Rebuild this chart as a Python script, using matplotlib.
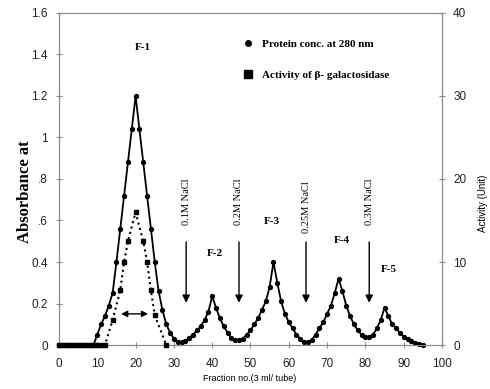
import matplotlib
matplotlib.use("Agg")
import matplotlib.pyplot as plt
from matplotlib.lines import Line2D

# protein absorbance at 280 nm, one value per fraction (0..95)
fractions = list(range(0, 96))
protein = [0, 0, 0, 0, 0, 0, 0, 0, 0, 0,
           0.05, 0.10, 0.14, 0.19, 0.25, 0.40, 0.56, 0.72, 0.88, 1.04,
           1.20, 1.04, 0.88, 0.72, 0.56, 0.40, 0.26, 0.17, 0.10, 0.06,
           0.03, 0.015, 0.015, 0.02, 0.035, 0.05, 0.07, 0.09, 0.12, 0.16,
           0.235, 0.18, 0.13, 0.09, 0.06, 0.035, 0.025, 0.025, 0.03, 0.05,
           0.07, 0.10, 0.13, 0.17, 0.21, 0.28, 0.40, 0.30, 0.21, 0.15,
           0.11, 0.08, 0.05, 0.03, 0.015, 0.015, 0.025, 0.05, 0.08, 0.11,
           0.15, 0.19, 0.25, 0.32, 0.26, 0.19, 0.14, 0.10, 0.07, 0.05,
           0.04, 0.04, 0.05, 0.08, 0.12, 0.18, 0.14, 0.10, 0.08, 0.06,
           0.04, 0.03, 0.02, 0.01, 0.005, 0.0]

# beta-galactosidase activity (Unit)
act_frac = [0, 1, 2, 3, 4, 5, 6, 7, 8, 9, 10, 11, 12, 14, 16, 17, 18, 20, 22, 23, 24, 25, 28]
activity = [0, 0, 0, 0, 0, 0, 0, 0, 0, 0, 0, 0, 0, 3.0, 6.6, 10.0, 12.5, 16.0, 12.5, 10.0, 6.6, 3.6, 0]

# salt steps
salt_labels = ["0.1M NaCl", "0.2M NaCl", "0.25M NaCl", "0.3M NaCl"]
salt_x = [33.2, 47, 64.5, 81]

peak_labels = ["F-1", "F-2", "F-3", "F-4", "F-5"]
peak_x = [22, 40.7, 55.5, 73.8, 86]
peak_y = [1.436, 0.443, 0.594, 0.506, 0.365]

serif = "Liberation Serif"
sans = "Liberation Sans"
grey = "#8a8a8a"

fig = plt.figure(figsize=(4.9, 3.89), dpi=100)
ax = fig.add_axes([0.1204, 0.1131, 0.7816, 0.8535])
ax2 = ax.twinx()

ax.plot(fractions, protein, "-", color="black", lw=1.3, marker="o", ms=2.8, clip_on=False, zorder=3)
ax2.plot(act_frac, activity, ":", color="black", lw=1.5, marker="s", ms=3.4, clip_on=False, zorder=3)

ax.set_xlim(0, 100)
ax.set_ylim(0, 1.6)
ax2.set_ylim(0, 40)
ax.set_xticks(range(0, 101, 10))
ax.set_yticks([0, 0.2, 0.4, 0.6, 0.8, 1.0, 1.2, 1.4, 1.6])
ax.set_yticklabels(["0", "0.2", "0.4", ".6", ".8", "1", "1.2", "1.4", "1.6"])
ax2.set_yticks([0, 10, 20, 30, 40])

for a in (ax, ax2):
    for s in a.spines.values():
        s.set_color(grey)
        s.set_linewidth(0.8)
    a.tick_params(direction="inout", length=4, width=0.8, color=grey,
                  labelsize=8.5, labelcolor="#222222")
ax.tick_params(axis="x", pad=7)
ax.tick_params(axis="y", pad=6)
ax2.tick_params(axis="y", pad=6)
for lbl in ax.get_xticklabels() + ax.get_yticklabels() + ax2.get_yticklabels():
    lbl.set_family(sans)

fig.text(0.051, 0.506, "Absorbance at", rotation=90, ha="center", va="center",
         family=serif, fontweight="bold", fontsize=12)
fig.text(0.986, 0.478, "Activity (Unit)", rotation=90, ha="center", va="center",
         family=sans, fontsize=7)
fig.text(0.51, 0.028, "Fraction no.(3 ml/ tube)", ha="center", va="center",
         family=sans, fontsize=6.5)

# salt arrows and labels
for lab, x in zip(salt_labels, salt_x):
    ax.annotate("", xy=(x, 0.19), xytext=(x, 0.51),
                arrowprops=dict(arrowstyle="-|>", color="black", lw=1.0, mutation_scale=11))
    ytop = 0.80 if lab != "0.25M NaCl" else 0.79
    ax.text(x, ytop, lab, rotation=90, ha="center", va="top", family=serif, fontsize=7.5)

ax.annotate("", xy=(15.5, 0.15), xytext=(24.0, 0.15),
            arrowprops=dict(arrowstyle="<|-|>", color="black", lw=1.0, mutation_scale=9))

for lab, x, y in zip(peak_labels, peak_x, peak_y):
    ax.text(x, y, lab, ha="center", va="center", family=serif, fontweight="bold", fontsize=8)

handles = [Line2D([], [], ls="none", marker="o", ms=4, color="black"),
           Line2D([], [], ls="none", marker="s", ms=6, color="black")]
ax.legend(handles, ["Protein conc. at 280 nm", "Activity of \u03b2- galactosidase"],
          loc="upper left", bbox_to_anchor=(0.452, 0.95), frameon=False,
          handlelength=1.0, handletextpad=0.8, labelspacing=1.9,
          prop={"family": serif, "weight": "bold", "size": 8})

fig.savefig("out.png", dpi=100)
